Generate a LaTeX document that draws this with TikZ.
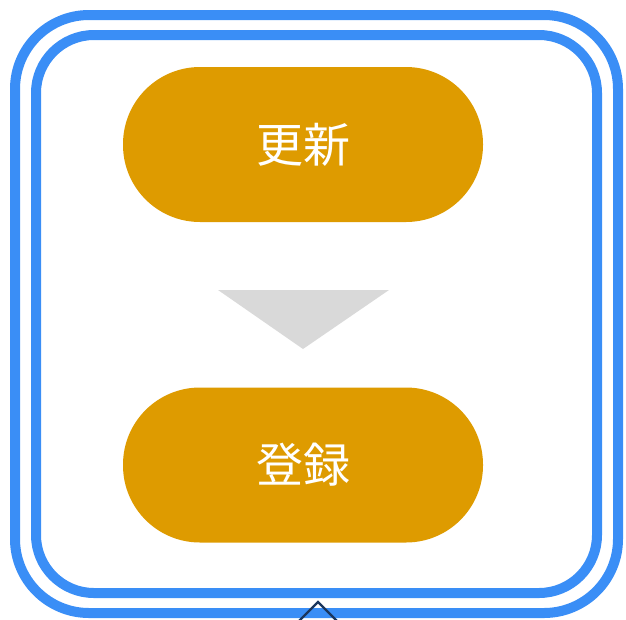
\documentclass[tikz,border=0pt]{standalone}
\usepackage{fontspec}
\usepackage{tikz}
\usetikzlibrary{positioning}
\newfontfamily\cjk{Noto Sans CJK JP}
\definecolor{frameblue}{HTML}{3A8EF6}
\definecolor{pillamber}{HTML}{DE9B00}
\definecolor{flowgray}{HTML}{D9D9D9}
\definecolor{caretnavy}{HTML}{1B365D}

\begin{document}
\begin{tikzpicture}[
  x=1pt, y=-1pt,
  frame/.style={draw=frameblue, line width=10pt, rounded corners=74pt},
  pill/.style={
    fill=pillamber, text=white,
    minimum width=360pt, minimum height=155pt,
    rounded corners=77pt, inner sep=0pt,
    font=\cjk\fontsize{47}{52}\selectfont
  },
  flow/.style={fill=flowgray},
  caret/.style={draw=caretnavy, line width=2.2pt}
]
\useasboundingbox (0,0) rectangle (626,619);

% ---- Rahmen ----
\draw[frame] (15,15) rectangle (618,613);
\draw[frame, rounded corners=58pt] (36,35) rectangle (597,593);

% ---- Schritte ----
\node[pill] (upd) at (303,144.5) {更新};
\node[pill] (reg) at (303,465) {登録};

% Pfeil zwischen den Schritten
\fill[flow] (218,290) -- (389,290) -- (303,349) -- cycle;

% Markierung unten
\draw[caret] (299,621) -- (318,602) -- (337,621);

\end{tikzpicture}
\end{document}
